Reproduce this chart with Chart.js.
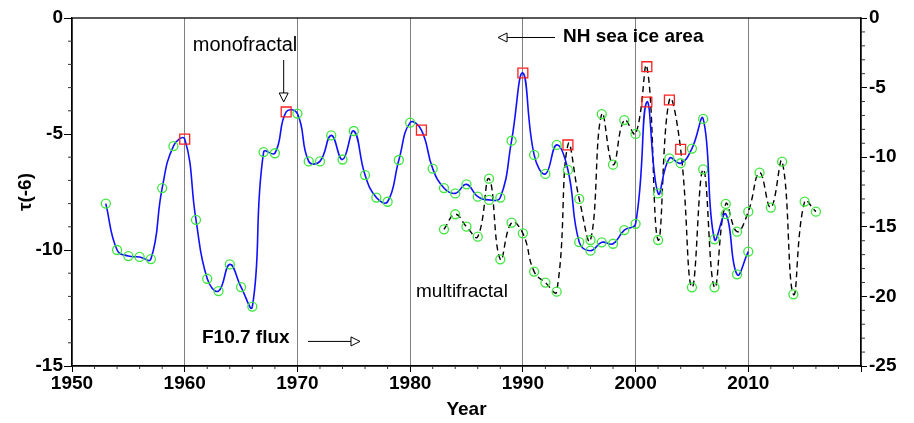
<!DOCTYPE html>
<html>
<head>
<meta charset="utf-8">
<script src="https://cdn.jsdelivr.net/npm/chart.js@4/dist/chart.umd.min.js"></script>
<style>
html,body{margin:0;padding:0;background:#fff;}
#wrap{width:914px;height:423px;}
</style>
</head>
<body>
<div id="wrap"><canvas id="c" width="914" height="423"></canvas></div>
<script>
// F10.7 flux tau(-6) (left axis), yearly
const fluxYears = [1953,1954,1955,1956,1957,1958,1959,1960,1961,1962,1963,1964,1965,1966,1967,1968,1969,1970,
  1971,1972,1973,1974,1975,1976,1977,1978,1979,1980,1981,1982,1983,1984,1985,1986,1987,1988,1989,1990,
  1991,1992,1993,1994,1995,1996,1997,1998,1999,2000,2001,2002,2003,2004,2005,2006,2007,2008,2009,2010];
const fluxTau = [-8.0,-10.0,-10.26,-10.3,-10.39,-7.33,-5.52,-5.22,-8.7,-11.24,-11.77,-10.62,-11.6,-12.44,-5.78,-5.83,-4.05,-4.12,
  -6.18,-6.18,-5.06,-6.1,-4.87,-6.77,-7.74,-7.92,-6.12,-4.51,-4.83,-6.49,-7.33,-7.56,-7.17,-7.7,-7.84,-7.74,-5.29,-2.37,
  -5.9,-6.72,-5.47,-6.55,-9.66,-10.03,-9.67,-9.73,-9.14,-8.87,-3.62,-7.56,-6.05,-6.26,-5.63,-4.35,-9.54,-8.45,-11.05,-10.07];
const fluxMonoYears = [1960,1969,1981,1990,2001];

// NH sea ice area tau(-6) (right axis), yearly
const iceYears = [1983,1984,1985,1986,1987,1988,1989,1990,1991,1992,1993,1994,1995,1996,1997,1998,1999,2000,
  2001,2002,2003,2004,2005,2006,2007,2008,2009,2010,2011,2012,2013,2014,2015,2016];
const iceTau = [-15.18,-14.1,-14.99,-15.71,-11.54,-17.34,-14.7,-15.47,-18.22,-19.01,-19.66,-9.12,-13.0,-15.95,-6.9,-10.54,-7.33,-8.33,
  -3.5,-15.95,-5.89,-9.43,-19.35,-10.87,-19.35,-13.36,-15.35,-13.91,-11.11,-13.62,-10.32,-19.85,-13.19,-13.91];
const iceMonoYears = [1994,2001,2003,2004];

// axis ticks
const xTickStep = 10;
const leftTicks = [0,-5,-10,-15];
const rightTicks = [0,-5,-10,-15,-20,-25];

const GREEN = '#3fe63f';
const RED = '#ff2020';

function pts(xs, ys){ return xs.map((x,i)=>({x:x,y:ys[i]})); }
function styleArr(xs, mono, a, b){ return xs.map(x => mono.includes(x) ? a : b); }

const annot = {
  id:'annot',
  afterDraw(chart){
    const ctx = chart.ctx, ca = chart.chartArea;
    const X = chart.scales.x, Y = chart.scales.y;
    ctx.save();
    // frame
    ctx.strokeStyle = '#000'; ctx.lineWidth = 1.3;
    ctx.strokeRect(ca.left, ca.top, ca.right-ca.left, ca.bottom-ca.top);
    // minor ticks
    ctx.lineWidth = 1; ctx.strokeStyle = '#333';
    ctx.beginPath();
    for (let v=-1; v>-15; v--) { if (v%5===0) continue; const p=Y.getPixelForValue(v); ctx.moveTo(ca.left-4,p); ctx.lineTo(ca.left,p); }
    const Y2 = chart.scales.y2;
    for (let v=-1; v>-25; v--) { if (v%5===0) continue; const p=Y2.getPixelForValue(v); ctx.moveTo(ca.right,p); ctx.lineTo(ca.right+4,p); }
    for (let v=1952; v<2020; v+=2) { if (v%10===0) continue; const p=X.getPixelForValue(v); ctx.moveTo(p,ca.bottom); ctx.lineTo(p,ca.bottom+3); }
    ctx.stroke();

    const px = v => X.getPixelForValue(v), py = v => Y.getPixelForValue(v);
    ctx.fillStyle = '#000'; ctx.textBaseline = 'middle';
    ctx.font = '20px "Liberation Sans", Arial, sans-serif';
    ctx.textAlign = 'center';
    ctx.fillText('monofractal', px(1965.35), py(-1.19));
    ctx.font = '19px "Liberation Sans", Arial, sans-serif';
    ctx.textAlign = 'left';
    ctx.fillText('multifractal', px(1980.52), py(-11.8));
    ctx.font = 'bold 19px "Liberation Sans", Arial, sans-serif';
    ctx.fillText('NH sea ice area', px(1993.56), py(-0.8));
    ctx.fillText('F10.7 flux', px(1961.53), py(-13.79));

    // arrows with open triangle heads
    function arrow(x1,y1,x2,y2){
      const ang = Math.atan2(y2-y1, x2-x1), L = 9, W = 4.5;
      const bx = x2 - L*Math.cos(ang), by = y2 - L*Math.sin(ang);
      ctx.strokeStyle = '#000'; ctx.lineWidth = 1;
      ctx.beginPath(); ctx.moveTo(x1,y1); ctx.lineTo(bx,by); ctx.stroke();
      const nx = -Math.sin(ang), ny = Math.cos(ang);
      ctx.fillStyle = '#fff';
      ctx.beginPath(); ctx.moveTo(x2,y2); ctx.lineTo(bx+nx*W, by+ny*W); ctx.lineTo(bx-nx*W, by-ny*W); ctx.closePath();
      ctx.fill(); ctx.stroke();
    }
    arrow(px(1968.78), py(-1.81), px(1968.78), py(-3.62));
    arrow(px(1992.85), py(-0.84), px(1987.8), py(-0.84));
    arrow(px(1970.94), py(-13.94), px(1975.55), py(-13.94));
    ctx.restore();
  }
};

const tickFont = {family:'"Liberation Sans", Arial, sans-serif', size:19, weight:'bold'};

new Chart(document.getElementById('c'), {
  type:'line',
  data:{
    datasets:[
      {
        label:'F10.7 flux',
        data: pts(fluxYears, fluxTau),
        yAxisID:'y',
        borderColor:'#1010ff', borderWidth:1.6, tension:0.45, fill:false,
        pointStyle: styleArr(fluxYears, fluxMonoYears, 'rect', 'circle'),
        pointBorderColor: styleArr(fluxYears, fluxMonoYears, RED, GREEN),
        pointRadius: styleArr(fluxYears, fluxMonoYears, 7, 4.5),
        pointBackgroundColor:'rgba(0,0,0,0)', pointBorderWidth:1.3, pointHoverRadius:0
      },
      {
        label:'NH sea ice area',
        data: pts(iceYears, iceTau),
        yAxisID:'y2',
        borderColor:'#000', borderWidth:1.4, borderDash:[6,4], tension:0.45, fill:false,
        pointStyle: styleArr(iceYears, iceMonoYears, 'rect', 'circle'),
        pointBorderColor: styleArr(iceYears, iceMonoYears, RED, GREEN),
        pointRadius: styleArr(iceYears, iceMonoYears, 7, 4.5),
        pointBackgroundColor:'rgba(0,0,0,0)', pointBorderWidth:1.3, pointHoverRadius:0
      }
    ]
  },
  options:{
    responsive:false, animation:false,
    layout:{padding:{top:18,left:0,right:0,bottom:0}},
    plugins:{legend:{display:false}, tooltip:{enabled:false}},
    scales:{
      x:{
        type:'linear', min:1950, max:2020,
        afterFit:s=>{s.height=57;},
        ticks:{stepSize:xTickStep, color:'#000', font:tickFont, padding:0, maxRotation:0,
          callback:v=> v===2020 ? '' : String(v)},
        grid:{drawOnChartArea:true, color:c=> (c.tick && (c.tick.value===1950||c.tick.value===2020)) ? 'rgba(0,0,0,0)' : '#808080',
          tickColor:'#000', tickLength:6, lineWidth:1},
        border:{color:'#000', width:1.3},
        title:{display:true, text:'Year', color:'#000', font:tickFont, padding:{top:0,bottom:2}}
      },
      y:{
        position:'left', min:-15, max:0,
        afterFit:s=>{s.width=72;},
        afterBuildTicks:s=>{s.ticks = leftTicks.map(v=>({value:v}));},
        ticks:{color:'#000', font:tickFont, padding:1},
        grid:{drawOnChartArea:false, tickColor:'#000', tickLength:8},
        border:{color:'#000', width:1.3},
        title:{display:true, text:'τ(-6)', color:'#000', font:tickFont, padding:{top:14,bottom:0}}
      },
      y2:{
        position:'right', min:-25, max:0,
        afterFit:s=>{s.width=53;},
        afterBuildTicks:s=>{s.ticks = rightTicks.map(v=>({value:v}));},
        ticks:{color:'#000', font:tickFont, padding:2},
        grid:{drawOnChartArea:false, tickColor:'#000', tickLength:6},
        border:{color:'#000', width:1.3}
      }
    }
  },
  plugins:[annot]
});
</script>
</body>
</html>
